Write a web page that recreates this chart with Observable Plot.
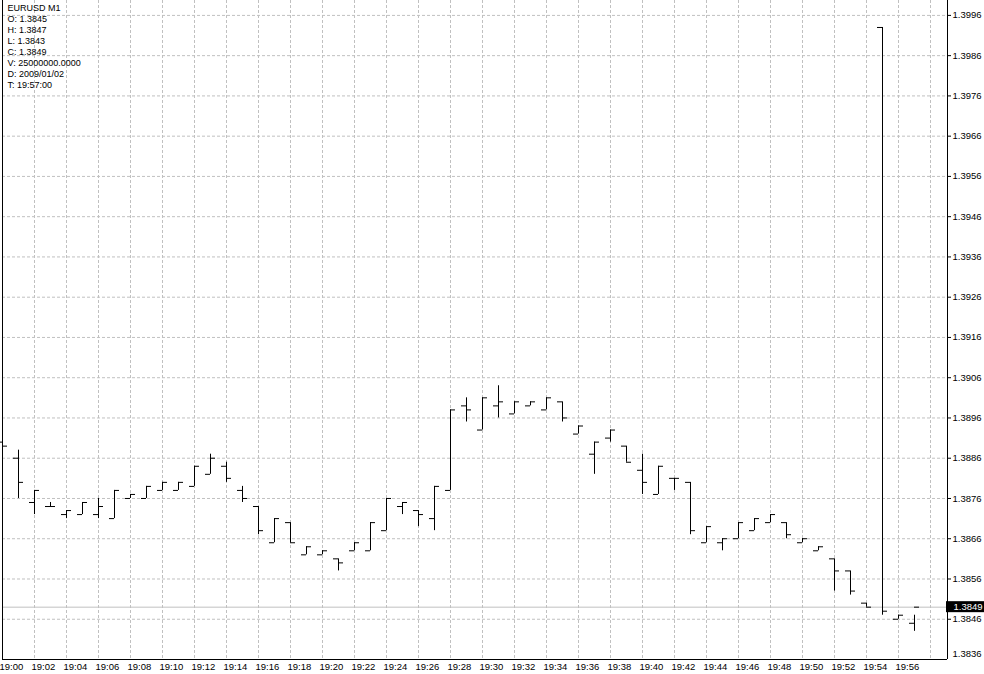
<!DOCTYPE html>
<html><head><meta charset="utf-8">
<script src="https://cdn.jsdelivr.net/npm/d3@7"></script>
<script src="https://cdn.jsdelivr.net/npm/@observablehq/plot@0.6"></script>
<style>
html,body{margin:0;padding:0;background:#fff;}
#chart svg{display:block;}
</style></head><body><div id="chart"></div>
<script>
const symbolLabel = "EURUSD M1";
const infoLabels = ["O: 1.3845","H: 1.3847","L: 1.3843","C: 1.3849","V: 25000000.0000","D: 2009/01/02","T: 19:57:00"];
const day = "2009-01-02";
const times = ["19:00","19:01","19:02","19:03","19:04","19:05","19:06","19:07","19:08","19:09",
  "19:10","19:11","19:12","19:13","19:14","19:15","19:16","19:17","19:18","19:19",
  "19:20","19:21","19:22","19:23","19:24","19:25","19:26","19:27","19:28","19:29",
  "19:30","19:31","19:32","19:33","19:34","19:35","19:36","19:37","19:38","19:39",
  "19:40","19:41","19:42","19:43","19:44","19:45","19:46","19:47","19:48","19:49",
  "19:50","19:51","19:52","19:53","19:54","19:55","19:56","19:57"];
const open = [1.3890,1.3886,1.3875,1.3874,1.3872,1.3872,1.3872,1.3871,1.3876,1.3876,
  1.3878,1.3878,1.3879,1.3882,1.3884,1.3878,1.3874,1.3865,1.3870,1.3862,
  1.3862,1.3861,1.3863,1.3863,1.3868,1.3874,1.3873,1.3871,1.3878,1.3899,
  1.3893,1.3899,1.3897,1.3899,1.3898,1.3900,1.3892,1.3887,1.3891,1.3889,
  1.3883,1.3877,1.3881,1.3880,1.3865,1.3865,1.3866,1.3868,1.3870,1.3870,
  1.3865,1.3863,1.3861,1.3858,1.3850,1.3993,1.3846,1.3845];
const high = [1.3898,1.3888,1.3878,1.3875,1.3873,1.3875,1.3876,1.3878,1.3877,1.3879,
  1.3880,1.3880,1.3884,1.3887,1.3885,1.3879,1.3874,1.3871,1.3870,1.3864,
  1.3863,1.3861,1.3865,1.3870,1.3876,1.3875,1.3873,1.3879,1.3898,1.3901,
  1.3901,1.3904,1.3900,1.3900,1.3901,1.3900,1.3894,1.3890,1.3893,1.3889,
  1.3887,1.3884,1.3881,1.3880,1.3869,1.3866,1.3870,1.3871,1.3872,1.3870,
  1.3866,1.3864,1.3861,1.3858,1.3850,1.3993,1.3847,1.3847];
const low = [1.3881,1.3876,1.3872,1.3874,1.3871,1.3872,1.3871,1.3871,1.3876,1.3876,
  1.3878,1.3878,1.3879,1.3882,1.3880,1.3875,1.3867,1.3865,1.3865,1.3862,
  1.3862,1.3858,1.3863,1.3863,1.3868,1.3872,1.3869,1.3868,1.3878,1.3895,
  1.3893,1.3896,1.3897,1.3899,1.3898,1.3895,1.3892,1.3882,1.3890,1.3885,
  1.3877,1.3877,1.3878,1.3867,1.3865,1.3863,1.3866,1.3868,1.3870,1.3866,
  1.3865,1.3863,1.3853,1.3852,1.3849,1.3847,1.3846,1.3843];
const close = [1.3889,1.3880,1.3878,1.3874,1.3873,1.3875,1.3874,1.3878,1.3877,1.3879,
  1.3880,1.3880,1.3884,1.3886,1.3881,1.3876,1.3868,1.3871,1.3865,1.3864,
  1.3863,1.3860,1.3865,1.3870,1.3876,1.3875,1.3872,1.3879,1.3898,1.3898,
  1.3901,1.3900,1.3900,1.3900,1.3901,1.3896,1.3894,1.3890,1.3893,1.3885,
  1.3880,1.3884,1.3881,1.3868,1.3869,1.3866,1.3870,1.3871,1.3872,1.3867,
  1.3866,1.3864,1.3858,1.3853,1.3849,1.3848,1.3847,1.3849];
const bidPrice = 1.3849;
const yTickValues = [1.3836,1.3846,1.3856,1.3866,1.3876,1.3886,1.3896,1.3906,1.3916,
  1.3926,1.3936,1.3946,1.3956,1.3966,1.3976,1.3986,1.3996];
const xTickLabels = ["19:00","19:02","19:04","19:06","19:08","19:10","19:12","19:14","19:16","19:18",
  "19:20","19:22","19:24","19:26","19:28","19:30","19:32","19:34","19:36","19:38",
  "19:40","19:42","19:44","19:46","19:48","19:50","19:52","19:54","19:56"];
const xGridLabels = xTickLabels.concat(["19:58"]);

// layout
const W = 984, H = 674, mL = 2, mR = 37, mT = 0, mB = 15, pxPerBar = 16;
const yDomain = [1.3836, 1.39997];

const toDate = t => new Date(`${day}T${t}:00Z`);
const bars = times.map((t, i) => ({time: toDate(t), open: open[i], high: high[i], low: low[i], close: close[i]}));
const x0 = toDate(times[0]);
const x1 = new Date(x0.getTime() + (W - mL - mR) / pxPerBar * 60000);
const gridColor = "#c0c0c0";
const infoText = [symbolLabel].concat(infoLabels).join("\n");

const plot = Plot.plot({
  width: W, height: H,
  marginLeft: mL, marginRight: mR, marginTop: mT, marginBottom: mB,
  style: {fontFamily: "'Liberation Sans', Arial, sans-serif", fontSize: "9.5px", background: "white", color: "black", overflow: "visible"},
  x: {type: "utc", domain: [x0, x1], label: null},
  y: {domain: yDomain, label: null},
  marks: [
    Plot.gridX(xGridLabels.map(toDate), {stroke: gridColor, strokeOpacity: 1, strokeDasharray: "3,2"}),
    Plot.gridY(yTickValues, {stroke: gridColor, strokeOpacity: 1, strokeDasharray: "3,2"}),
    Plot.ruleY([bidPrice], {stroke: gridColor}),
    Plot.ruleX(bars, {x: "time", y1: "low", y2: "high", stroke: "black"}),
    Plot.ruleY(bars, {y: "open", x1: "time", x2: "time", insetLeft: -5, stroke: "black"}),
    Plot.ruleY(bars, {y: "close", x1: "time", x2: "time", insetRight: -5, stroke: "black"}),
    Plot.ruleX([x0, x1], {stroke: "black"}),
    Plot.ruleY([yDomain[0]], {stroke: "black"}),
    Plot.axisY(yTickValues.filter(v => v > yDomain[0]), {anchor: "right", tickSize: 3, tickPadding: 2, label: null, tickFormat: d => d.toFixed(4)}),
    Plot.text([yDomain[0]], {y: d => d, frameAnchor: "right", dx: 5, dy: -6, textAnchor: "start", text: d => d.toFixed(4)}),
    Plot.axisX(xTickLabels.map(toDate), {anchor: "bottom", tickSize: 0, tickPadding: 4, textAnchor: "start", dx: -3, label: null, tickFormat: d3.utcFormat("%H:%M")}),
    Plot.text([infoText], {frameAnchor: "top-left", lineAnchor: "top", textAnchor: "start", dx: 5, dy: 3, lineHeight: 1.22, fontSize: 9, text: d => d}),
    Plot.text([bidPrice], {y: d => d, frameAnchor: "right", dx: 6, textAnchor: "start", fill: "white", text: d => d.toFixed(4)})
  ]
});
document.getElementById("chart").appendChild(plot);

// black background box behind the current price label (the last mark)
const yb = plot.scale("y").apply(bidPrice);
const groups = plot.querySelectorAll(":scope > g");
const lastGroup = groups[groups.length - 1];
const box = document.createElementNS("http://www.w3.org/2000/svg", "rect");
box.setAttribute("x", W - mR - 1);
box.setAttribute("y", yb - 5.5);
box.setAttribute("width", mR + 1);
box.setAttribute("height", 11);
box.setAttribute("fill", "black");
plot.insertBefore(box, lastGroup);
</script>
</body></html>
